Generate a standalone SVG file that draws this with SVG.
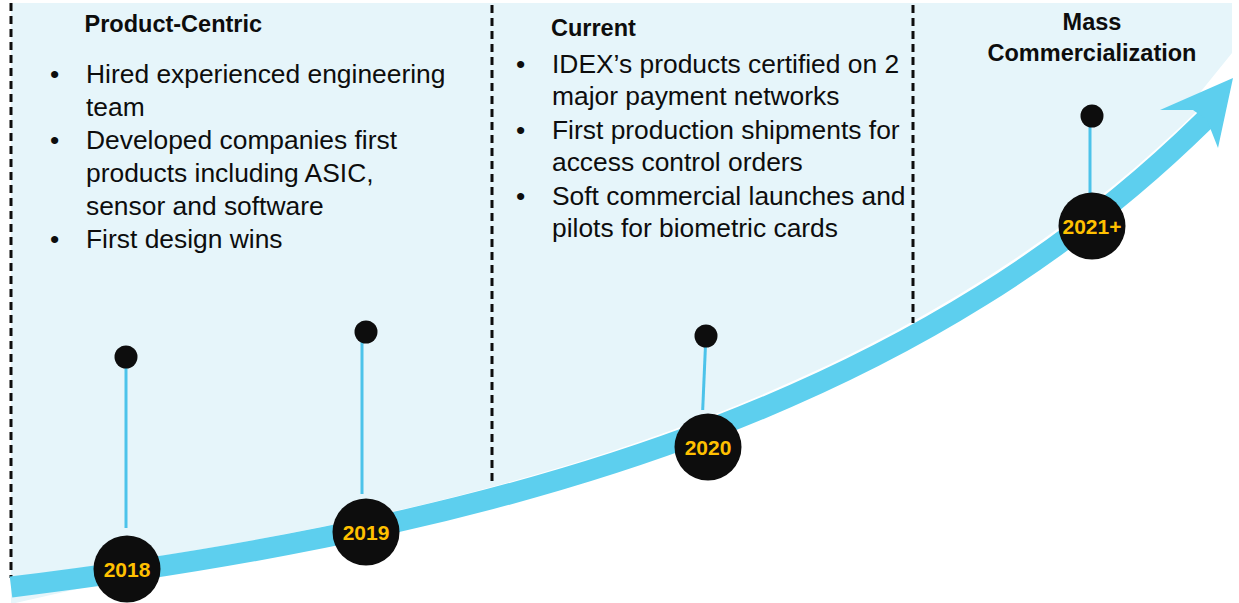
<svg xmlns="http://www.w3.org/2000/svg" width="1239" height="603" viewBox="0 0 1239 603">
  <style>
    .title { font-family: "Liberation Sans", Arial, sans-serif; font-weight: bold; font-size: 23.5px; fill: #0d0d0d; }
    .body { font-family: "Liberation Sans", Arial, sans-serif; font-size: 26.4px; fill: #0d0d0d; }
    .year { font-family: "Liberation Sans", Arial, sans-serif; font-weight: bold; font-size: 21px; fill: #ffc000; text-anchor: middle; }
    .divider { stroke: #0d0d0d; stroke-width: 3; stroke-dasharray: 8 5; fill: none; }
    .stem { stroke: #4cc3ea; stroke-width: 3; fill: none; }
    .dot { fill: #0d0d0d; }
    .badge { fill: #0d0d0d; }
    .band { stroke: #5dcfee; stroke-width: 21; fill: none; }
  </style>

  <!-- background panel above the growth curve -->
  <path d="M11,3 H1232 V53 L1194,100 L1203,105 C935,370 561,509 11,577 Z" fill="#e6f5fa"/>
  <path d="M11,585 L130,577 L11,604 Z" fill="#e6f5fa"/>

  <!-- dashed phase dividers -->
  <g id="dividers">
    <line class="divider" x1="11" y1="3" x2="11" y2="578"/>
    <line class="divider" x1="492" y1="5" x2="492" y2="484"/>
    <line class="divider" x1="913" y1="5" x2="913" y2="323"/>
  </g>

  <!-- growth arrow and milestone stems -->
  <g id="connectors">
    <path class="band" d="M11,587 C561,520 935,385 1203,122 L1212,113"/>
    <polygon points="1160,110 1233,78 1218,148 1207,120 1193,110" fill="#5dcfee"/>
    <line class="stem" x1="126" y1="366" x2="126" y2="528"/>
    <line class="stem" x1="362" y1="342" x2="362" y2="494"/>
    <line class="stem" x1="705.5" y1="345" x2="702.7" y2="410"/>
    <line class="stem" x1="1090" y1="126" x2="1090" y2="194"/>
  </g>

  <g id="phase-product-centric">
    <text class="title" x="84.5" y="32">Product-Centric</text>
    <text class="body" x="50" y="83">•</text>
    <text class="body" x="86" y="83">Hired experienced engineering</text>
    <text class="body" x="86" y="115.5">team</text>
    <text class="body" x="50" y="149">•</text>
    <text class="body" x="86" y="149">Developed companies first</text>
    <text class="body" x="86" y="182">products including ASIC,</text>
    <text class="body" x="86" y="215">sensor and software</text>
    <text class="body" x="50" y="248">•</text>
    <text class="body" x="86" y="248">First design wins</text>
  </g>

  <g id="phase-current">
    <text class="title" x="551" y="36">Current</text>
    <text class="body" x="516" y="73">•</text>
    <text class="body" x="552" y="73">IDEX’s products certified on 2</text>
    <text class="body" x="552" y="105">major payment networks</text>
    <text class="body" x="516" y="139">•</text>
    <text class="body" x="552" y="139">First production shipments for</text>
    <text class="body" x="552" y="171">access control orders</text>
    <text class="body" x="516" y="205">•</text>
    <text class="body" x="552" y="205">Soft commercial launches and</text>
    <text class="body" x="552" y="237">pilots for biometric cards</text>
  </g>

  <g id="phase-mass-commercialization">
    <text class="title" x="1092" y="29.5" text-anchor="middle">Mass</text>
    <text class="title" x="1092" y="60.5" text-anchor="middle">Commercialization</text>
  </g>

  <g id="milestone-2018">
    <circle class="dot" cx="126" cy="357" r="11.5"/>
    <circle class="badge" cx="127" cy="569" r="33.5"/>
    <text class="year" x="127" y="576.5">2018</text>
  </g>

  <g id="milestone-2019">
    <circle class="dot" cx="366" cy="332" r="11.5"/>
    <circle class="badge" cx="366" cy="532" r="33.5"/>
    <text class="year" x="366" y="539.5">2019</text>
  </g>

  <g id="milestone-2020">
    <circle class="dot" cx="706" cy="336" r="11.5"/>
    <circle class="badge" cx="708" cy="447" r="33.5"/>
    <text class="year" x="708" y="454.5">2020</text>
  </g>

  <g id="milestone-2021">
    <circle class="dot" cx="1092" cy="116" r="11.5"/>
    <circle class="badge" cx="1092" cy="226" r="33.5"/>
    <text class="year" x="1092" y="233.5">2021+</text>
  </g>
</svg>
